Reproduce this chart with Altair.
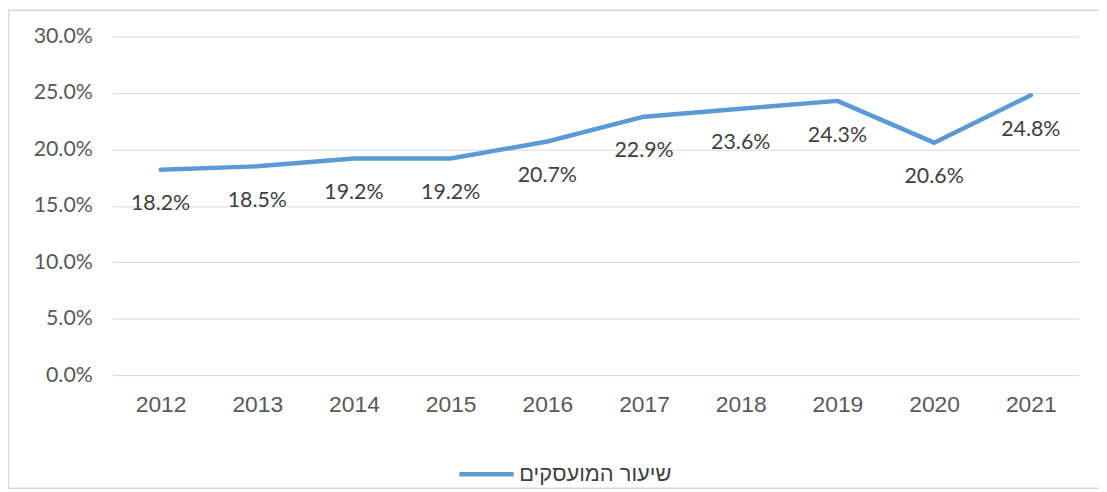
import altair as alt
import pandas as pd

years = ["2012", "2013", "2014", "2015", "2016", "2017", "2018", "2019", "2020", "2021"]
rates = [0.182, 0.185, 0.192, 0.192, 0.207, 0.229, 0.236, 0.243, 0.206, 0.248]
series_name = "שיעור המועסקים"
y_ticks = [0.0, 0.05, 0.10, 0.15, 0.20, 0.25, 0.30]

df = pd.DataFrame({"year": years, "rate": rates, "series": [series_name] * len(years)})

x_enc = alt.X("year:O", sort=years, title=None,
              scale=alt.Scale(type="point", padding=0.5),
              axis=alt.Axis(labelAngle=0, ticks=False, domain=False, grid=False,
                            labelFontSize=23, labelColor="#595959", labelFont="Liberation Sans",
                            labelPadding=19))
y_enc = alt.Y("rate:Q", title=None,
              scale=alt.Scale(domain=[0, 0.3], nice=False, zero=True),
              axis=alt.Axis(values=y_ticks, format=".1%", ticks=False, domain=False,
                            grid=True, gridColor="#D9D9D9", gridWidth=1,
                            labelFontSize=21.5, labelColor="#595959", labelFont="Lato",
                            labelPadding=20))

line = alt.Chart(df).mark_line(strokeWidth=4.5, strokeCap="round", strokeJoin="round").encode(
    x=x_enc,
    y=y_enc,
    color=alt.Color("series:N", title=None,
                    scale=alt.Scale(range=["#5B9BD5"]),
                    legend=alt.Legend(orient="none", legendX=347, legendY=411,
                                      symbolType="M-1,0L1,0", symbolSize=3000,
                                      symbolStrokeWidth=4.5, symbolStrokeColor="#5B9BD5",
                                      labelFontSize=22, labelColor="#404040",
                                      labelFont="Liberation Sans", labelOffset=3))
)

labels = alt.Chart(df).mark_text(dy=35, fontSize=21.5, color="#404040", font="Lato",
                                 baseline="middle", align="center").encode(
    x=alt.X("year:O", sort=years),
    y=alt.Y("rate:Q"),
    text=alt.Text("rate:Q", format=".1%"),
)

frame_df = pd.DataFrame({"k": [1]})
frame_style = dict(color="#D9D9D9", strokeWidth=1.5)
frame_top = alt.Chart(frame_df).mark_rule(**frame_style).encode(
    x=alt.value(-105), x2=alt.value(1000), y=alt.value(-26.5))
frame_left = alt.Chart(frame_df).mark_rule(**frame_style).encode(
    x=alt.value(-104.5), y=alt.value(-27), y2=alt.value(455))
frame_bottom = alt.Chart(frame_df).mark_rule(**frame_style).encode(
    x=alt.value(-105), x2=alt.value(1000), y=alt.value(455))

chart = alt.layer(frame_top, frame_left, frame_bottom, line, labels).properties(
    width=974, height=341,
    padding={"left": 105, "top": 27, "right": 20, "bottom": 116},
    autosize=alt.AutoSizeParams(type="none"),
    background="white",
).configure_view(strokeWidth=0, stroke="transparent")

chart.save("out.html", embed_options={"renderer": "svg", "actions": False})
